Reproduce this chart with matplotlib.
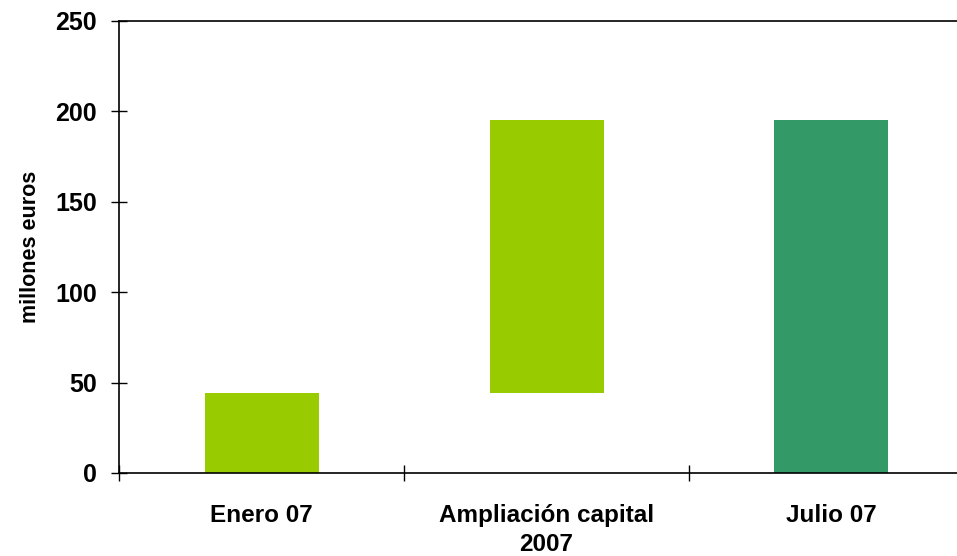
import matplotlib
matplotlib.use('Agg')
import matplotlib.pyplot as plt

# -----------------------------------------------------------------------
# Data (millones euros)
# -----------------------------------------------------------------------
categories = ["Enero 07", "Ampliación capital\n2007", "Julio 07"]
bases      = [0, 44, 0]
heights    = [44, 151, 195]
colors     = ["#99CC00", "#99CC00", "#339966"]
y_ticks    = [0, 50, 100, 150, 200, 250]

plt.rcParams['font.family'] = ['Liberation Sans', 'DejaVu Sans']

fig = plt.figure(figsize=(9.57, 5.56), dpi=100)
ax = fig.add_axes([119 / 957, 1 - 473 / 556, 855 / 957, 452 / 556])

x = list(range(len(categories)))
ax.bar(x, heights, bottom=bases, width=0.4, color=colors, linewidth=0)

ax.set_xlim(-0.5, len(categories) - 0.5)
ax.set_ylim(0, 250)
ax.set_yticks(y_ticks)
ax.set_yticklabels([str(v) for v in y_ticks], fontsize=18, fontweight='bold')
ax.set_xticks(x)
ax.set_xticklabels(categories, fontsize=17.5, fontweight='bold', linespacing=1.35)
ax.set_xticks([i + 0.5 for i in range(-1, len(categories) - 1)], minor=True)

ax.tick_params(axis='y', direction='inout', length=12, width=1, pad=10)
ax.tick_params(axis='x', which='major', length=0, pad=22)
ax.tick_params(axis='x', which='minor', direction='inout', length=12, width=1)

ax.set_ylabel("millones euros", fontsize=15.5, fontweight='bold', labelpad=10)

for side in ['left', 'bottom', 'top']:
    ax.spines[side].set_linewidth(1.2)
ax.spines['right'].set_visible(False)

plt.savefig("out.png", dpi=100)
plt.close()
